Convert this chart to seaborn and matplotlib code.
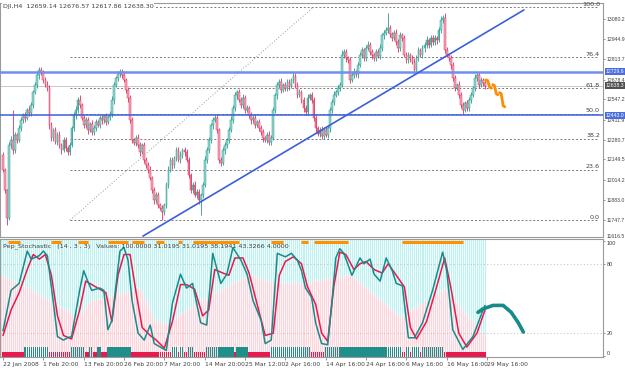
import numpy as np
import pandas as pd
import matplotlib
matplotlib.use("Agg")
import matplotlib.pyplot as plt
import matplotlib.transforms as mtransforms
import seaborn as sns

sns.set_style("white")
plt.rcParams['font.family'] = ['DejaVu Sans']

# ---------------- data ----------------
first_open = 12178
closes = [
    12079, 11946, 11761, 12245, 12278, 12212, 12311, 12278, 12357, 12410,
    12444, 12424, 12477, 12457, 12510, 12596, 12642, 12709, 12742, 12729,
    12676, 12642, 12623, 12377, 12291, 12344, 12265, 12311, 12245, 12212,
    12278, 12225, 12198, 12245, 12357, 12444, 12477, 12543, 12510, 12424,
    12377, 12410, 12344, 12384, 12331, 12357, 12397, 12377, 12424, 12410,
    12437, 12397, 12430, 12450, 12543, 12642, 12689, 12715, 12729, 12709,
    12676, 12609, 12556, 12410, 12278, 12258, 12291, 12245, 12198, 12245,
    12145, 12112, 12079, 12026, 11946, 11880, 11913, 11847, 11827, 11800,
    11847, 11979, 12079, 12145, 12112, 12158, 12212, 12145, 12178, 12212,
    12198, 12145, 12046, 11946, 11979, 11913, 11933, 11880, 11913, 11979,
    12145, 12212, 12278, 12377, 12410, 12424, 12344, 12145, 12125, 12212,
    12245, 12278, 12344, 12410, 12490, 12576, 12596, 12543, 12510, 12556,
    12477, 12490, 12444, 12410, 12424, 12377, 12397, 12357, 12331, 12291,
    12278, 12311, 12265, 12291, 12477, 12576, 12642, 12662, 12609, 12642,
    12623, 12662, 12636, 12676, 12702, 12642, 12576, 12596, 12543, 12490,
    12463, 12556, 12576, 12543, 12424, 12357, 12318, 12344, 12304, 12344,
    12311, 12357, 12477, 12530, 12576, 12596, 12623, 12642, 12841, 12861,
    12821, 12808, 12676, 12709, 12729, 12715, 12775, 12841, 12874, 12821,
    12888, 12908, 12861, 12841, 12821, 12861, 12835, 12888, 12974, 12987,
    13007, 13020, 12981, 12954, 12987, 12928, 12888, 12974, 12954, 12841,
    12808, 12841, 12821, 12795, 12742, 12821, 12874, 12841, 12888, 12908,
    12941, 12908, 12954, 12928, 12954, 12941, 13007, 13073, 13087, 12874,
    12841, 12821, 12775, 12689, 12623, 12642, 12576, 12510, 12477, 12523,
    12490, 12543, 12576, 12623, 12689, 12709, 12642, 12676, 12659, 12638.3,
]
upper_wick = [
    20, 15, 10, 18, 25, 199, 20, 15, 22, 18, 12, 20, 15, 25, 18, 12, 20, 15, 20, 18,
    15, 20, 25, 18, 20, 15, 22, 18, 25, 15, 20, 18, 12, 22, 15, 20, 25, 18, 30, 15,
    20, 18, 22, 15, 25, 18, 20, 15, 22, 18, 12, 20, 15, 18, 25, 20, 15, 22, 18, 20,
    25, 15, 20, 18, 22, 15, 20, 25, 18, 15, 20, 22, 18, 25, 15, 20, 18, 22, 15, 20,
    15, 20, 25, 18, 22, 15, 20, 18, 25, 15, 20, 22, 18, 15, 20, 25, 18, 22, 15, 20,
    25, 18, 20, 15, 22, 18, 25, 15, 20, 18, 22, 15, 20, 25, 18, 22, 15, 20, 18, 25,
    18, 20, 15, 22, 18, 25, 15, 20, 18, 22, 15, 20, 25, 18, 22, 15, 20, 18, 25, 15,
    20, 22, 18, 15, 25, 20, 18, 22, 15, 20, 18, 25, 15, 20, 22, 18, 15, 20, 25, 18,
    22, 15, 20, 18, 25, 15, 20, 22, 33, 18, 20, 15, 22, 18, 25, 15, 20, 18, 22, 15,
    20, 25, 18, 22, 15, 20, 18, 25, 15, 20, 22, 100, 18, 15, 20, 25, 18, 22, 15, 20,
    18, 22, 15, 20, 25, 18, 22, 15, 20, 18, 25, 15, 20, 22, 18, 15, 20, 25, 18, 33,
    20, 15, 22, 18, 20, 15, 25, 18, 20, 15, 22, 18, 20, 15, 25, 13, 18, 20, 15, 17,
]
lower_wick = [
    15, 20, 47, 15, 20, 25, 18, 22, 15, 20, 18, 25, 15, 20, 22, 18, 15, 20, 25, 18,
    22, 15, 20, 25, 18, 22, 15, 20, 18, 25, 15, 20, 22, 18, 15, 20, 25, 18, 22, 15,
    20, 18, 25, 15, 20, 22, 18, 15, 20, 25, 18, 22, 15, 20, 18, 25, 15, 20, 22, 18,
    15, 20, 25, 18, 22, 15, 20, 18, 25, 15, 20, 22, 18, 15, 20, 25, 18, 22, 15, 53,
    20, 18, 22, 15, 25, 18, 20, 15, 22, 18, 25, 15, 20, 18, 22, 15, 20, 25, 99, 18,
    15, 20, 22, 18, 25, 15, 20, 18, 22, 15, 25, 18, 20, 15, 22, 18, 25, 15, 20, 18,
    22, 15, 20, 25, 18, 22, 15, 20, 18, 25, 15, 20, 22, 18, 15, 20, 25, 18, 22, 15,
    20, 18, 25, 15, 20, 22, 18, 15, 20, 25, 18, 22, 15, 20, 18, 25, 15, 20, 22, 18,
    15, 20, 25, 18, 22, 15, 20, 18, 15, 20, 25, 18, 22, 15, 20, 18, 25, 15, 20, 22,
    18, 15, 20, 25, 18, 22, 15, 20, 18, 25, 15, 20, 22, 18, 15, 20, 25, 18, 22, 15,
    20, 18, 25, 15, 20, 22, 18, 15, 20, 25, 18, 22, 15, 20, 18, 25, 15, 20, 22, 18,
    15, 20, 25, 18, 22, 15, 20, 18, 27, 15, 20, 22, 18, 15, 20, 18, 22, 15, 20, 21,
]

price_ticks = [13080.2, 12944.9, 12813.7, 12678.4, 12547.2, 12411.9, 12280.7,
               12149.5, 12014.2, 11883.0, 11747.7]
bottom_price_label = 11616.5
time_labels = ["22 Jan 2008", "1 Feb 20:00", "13 Feb 20:00", "26 Feb 20:00",
               "7 Mar 20:00", "14 Mar 20:00", "25 Mar 12:00", "2 Apr 16:00",
               "14 Apr 16:00", "24 Apr 16:00", "6 May 16:00", "16 May 16:00",
               "29 May 16:00"]
time_label_bars = [0, 20, 40, 60, 80, 100, 120, 140, 160, 180, 200, 220, 240]

fib_levels = [0.0, 23.6, 38.2, 50.0, 61.8, 76.4, 100.0]
fib_low, fib_high = 11747, 13160
fib_bar_start, fib_bar_high = 33.2, 154

support_levels = [12729.6, 12443.0]
last_price = 12638.3
trend_bars = [69.4, 258.3]
trend_prices = [11641, 13140]

proj_price_bars = [[239.3, 240.3, 241.3, 242.2], [242.8, 243.6, 244.6, 245.3], [246.2, 247.0, 248.0, 248.8]]
proj_price_vals = [[12676, 12672, 12628, 12622], [12645, 12640, 12585, 12578], [12592, 12585, 12505, 12498]]

# stochastic (14,3,3)
k_bars = [0, 4, 8, 12, 14, 18, 20, 22, 25, 27, 30, 32, 34, 38, 40, 42, 44, 48, 50, 52,
          54, 58, 60, 62, 64, 67, 70, 73, 75, 78, 81, 84, 88, 91, 94, 98, 101, 104, 108, 111,
          114, 118, 121, 124, 128, 130, 133, 136, 140, 143, 146, 148, 150, 153, 155, 158, 161, 163, 165, 167,
          169, 173, 177, 179, 182, 184, 187, 190, 193, 195, 198, 201, 204, 208, 213, 218, 220, 223, 228, 233,
          238, 239]
k_vals = [22, 57, 63, 91, 84, 87, 91, 87, 46, 17, 14, 16, 17, 57, 74, 65, 57, 59, 57, 23,
          31, 91, 94, 83, 48, 20, 14, 27, 11, 8, 5, 46, 71, 59, 63, 29, 27, 89, 63, 71,
          94, 83, 71, 48, 31, 11, 14, 89, 86, 89, 83, 74, 59, 51, 29, 11, 10, 45, 85, 93,
          89, 70, 85, 80, 84, 71, 65, 85, 74, 63, 61, 16, 16, 29, 57, 90, 74, 23, 6, 17,
          40, 44]
d_bars = [0, 4, 8, 12, 15, 18, 21, 24, 27, 30, 34, 38, 41, 44, 48, 51, 54, 57, 60, 63,
          66, 69, 73, 76, 80, 84, 88, 91, 95, 99, 102, 105, 109, 112, 115, 119, 122, 126, 130, 134,
          137, 140, 144, 148, 151, 155, 158, 161, 164, 167, 170, 174, 177, 180, 184, 188, 191, 195, 199, 202,
          205, 210, 215, 219, 222, 226, 230, 235, 239]
d_vals = [18, 40, 55, 75, 88, 84, 88, 70, 35, 18, 15, 40, 65, 62, 58, 55, 30, 70, 88, 88,
          55, 25, 18, 14, 7, 30, 62, 62, 58, 35, 40, 75, 72, 70, 85, 85, 72, 45, 18, 20,
          70, 82, 86, 80, 60, 45, 20, 13, 60, 90, 88, 75, 80, 82, 75, 72, 80, 70, 60, 25,
          15, 30, 60, 85, 60, 20, 8, 20, 40]
proj_bars = [235.5, 238, 243, 248, 252, 255.5, 258]
proj_vals = [38, 41, 44, 44, 38, 29, 21]

pink_bars = [-1.5, 15, 37, 43, 68, 75, 81, 98, 122, 132, 147, 172, 197, 219, 238, 239.5]
pink_vals = [71, 57, 34, 48, 59, 31, 29, 48, 71, 65, 63, 71, 34, 59, 20, 18]

orange_start = [2.5, 24, 37, 52, 64, 76, 87, 94, 133, 148, 154, 198]
orange_end = [8.4, 29, 42, 62, 70, 80, 89, 117, 139, 151, 171, 228]
teal_start = [11, 34, 43, 47, 52, 84, 88, 92, 101, 116, 133, 160, 200, 203, 208]
teal_end = [22, 40, 44, 48, 63, 86, 89, 94, 114, 121, 152, 197, 201, 206, 218]

# ---------------- fonts ----------------
NARROW = ['Liberation Sans', 'DejaVu Sans']
NFS = 3.7

# ---------------- figure ----------------
W, H = 625, 368
FS = 4.6
XFS = 4.3
TXT = '#404040'
fig = plt.figure(figsize=(W / 100, H / 100), dpi=100)


def rect(l, t, r, b):
    return [l / W, 1 - b / H, (r - l) / W, (b - t) / H]


ax1 = fig.add_axes(rect(0, 3, 603, 237))
ax2 = fig.add_axes(rect(0, 239, 603, 357))
XL = (-1.49, 297.5)

# ---- candles ----
c = np.array(closes, dtype=float)
bars = np.arange(len(c))
o = np.r_[first_open, c[:-1]]
hi = np.maximum(o, c) + np.array(upper_wick)
lo = np.minimum(o, c) - np.array(lower_wick)
up = c >= o
edge = np.where(up, '#2a9a90', '#e0335e')
face = np.where(up, '#95d8cf', '#f4a9bb')
ax1.vlines(bars, lo, hi, colors=edge, lw=0.6, zorder=3)
body = np.where(np.abs(c - o) < 3, 3, c - o)
ax1.bar(bars, body, bottom=o, width=0.85, color=face, edgecolor=edge, linewidth=0.35, zorder=4)

# ---- horizontal lines ----
ax1.axhline(last_price, color='#c8c8c8', lw=0.7, zorder=1)
ax1.axhline(support_levels[0], color='#6f8ff0', lw=1.8, zorder=5)
ax1.axhline(support_levels[1], color='#3a5fdc', lw=1.1, zorder=5)
ax1.plot(trend_bars, trend_prices, color='#3a5fdc', lw=1.2, zorder=5)

# ---- fibonacci ----
for lvl in fib_levels:
    p = fib_low + lvl / 100 * (fib_high - fib_low)
    ax1.hlines(p, fib_bar_start, 295, colors='#7a7a7a', linestyles=(0, (2, 2)), lw=0.7, zorder=2)
    ax1.text(296, p + 2, f"{lvl:.1f}", ha='right', va='bottom', fontsize=FS, color=TXT, zorder=6)
ax1.plot([fib_bar_start, fib_bar_high], [fib_low, fib_high], color='#9a9a9a',
         ls=(0, (1, 2)), lw=0.7, zorder=2)

# ---- orange projection ----
for xs, ys in zip(proj_price_bars, proj_price_vals):
    ax1.plot(xs, ys, color='#ff8c00', lw=2.0, solid_capstyle='round', zorder=6)

ax1.set_xlim(*XL)
ax1.set_ylim(11635, 13186)
ax1.set_xticks([])
ax1.yaxis.tick_right()
ax1.set_yticks(price_ticks)
ax1.set_yticklabels([f"{v:.1f}" for v in price_ticks], family=NARROW)
ax1.tick_params(axis='y', length=1.5, width=0.6, color='#808080', labelsize=NFS,
                labelcolor=TXT, pad=0.9, right=True, left=False)
trans1 = mtransforms.blended_transform_factory(ax1.transAxes, ax1.transData)
ax1.text(1.0055, bottom_price_label + 20, f"{bottom_price_label:.1f}", transform=trans1,
         fontsize=NFS, family=NARROW, color=TXT, va='center', ha='left', clip_on=False)
for val, col in [(support_levels[0], '#4a6ee0'), (last_price, '#505050'), (support_levels[1], '#4a6ee0')]:
    ax1.text(1.0045, val, f"{val:.1f}", transform=trans1, fontsize=NFS, family=NARROW,
             color='white', va='center', ha='left', clip_on=False, zorder=10,
             bbox=dict(boxstyle='square,pad=0.2', fc=col, ec='none'))

ax1.text(0.005, 13166, "DJI,H4  12659.14 12676.57 12617.86 12638.30", fontsize=FS,
         color=TXT, ha='left', va='center', zorder=7,
         bbox=dict(boxstyle='square,pad=0.1', fc='white', ec='none'))

# ---------------- sub window ----------------
YL = (-0.6, 101.4)
ax2.fill_between(pink_bars, YL[0], pink_vals, color='#fbd4dc', lw=0)
ax2.fill_between(pink_bars, pink_vals, YL[1], color='#bff1f1', lw=0)
ax2.vlines(np.arange(-2, 240) + 0.5, YL[0], YL[1], colors='white', lw=0.55, zorder=1)
for lv in (80, 20):
    ax2.axhline(lv, color='#c8c8c8', ls=(0, (1, 2)), lw=0.8, zorder=1.5)

is_teal = np.zeros(len(bars), dtype=bool)
for s, e in zip(teal_start, teal_end):
    is_teal |= (bars >= s) & (bars <= e)
ax2.bar(bars[is_teal], 8.6, bottom=YL[0], width=0.7, color='#1f8f8c', lw=0, zorder=2)
ax2.bar(bars[~is_teal], 4.2, bottom=YL[0], width=0.8, color='#e8194d', lw=0, zorder=2)
ax2.hlines([99.2] * len(orange_start), orange_start, orange_end, colors='#ff9000', lw=2.2, zorder=2)

sns.lineplot(x=d_bars, y=d_vals, ax=ax2, color='#e8194d', lw=1.1, zorder=3)
sns.lineplot(x=k_bars, y=k_vals, ax=ax2, color='#178c8c', lw=1.1, zorder=4)
sns.lineplot(x=proj_bars, y=proj_vals, ax=ax2, color='#178a8a', lw=2.6, zorder=4)

ax2.set_xlim(*XL)
ax2.set_ylim(*YL)
ax2.set_xlabel("")
ax2.set_ylabel("")
ax2.yaxis.tick_right()
ax2.set_yticks([0, 20, 80, 100])
ax2.set_yticklabels(["0", "20", "80", "100"], family=NARROW)
for t in ax2.get_yticklabels():
    if t.get_text() == "100":
        t.set_va('top')
    elif t.get_text() == "0":
        t.set_va('bottom')
ax2.tick_params(axis='y', length=1.5, width=0.6, color='#808080', labelsize=NFS + 0.3,
                labelcolor=TXT, pad=0.9, right=True, left=False)
ax2.set_xticks(time_label_bars)
ax2.set_xticklabels(time_labels)
for t in ax2.get_xticklabels():
    t.set_ha('left')
ax2.tick_params(axis='x', length=2, width=0.6, color='#808080', labelsize=XFS,
                labelcolor=TXT, pad=1.5, bottom=True)

fig.text(3 / W, 1 - 246 / H,
         "Pep_Stochastic   (14 , 3 , 3)   Values: 100.0000 31.0195 31.0195 38.1941 43.3266 4.0000",
         fontsize=FS, color=TXT, ha='left', va='center')

for ax in (ax1, ax2):
    for s in ax.spines.values():
        s.set_color('#9a9a9a')
        s.set_linewidth(0.8)

fig.savefig("out.png", dpi=100)
